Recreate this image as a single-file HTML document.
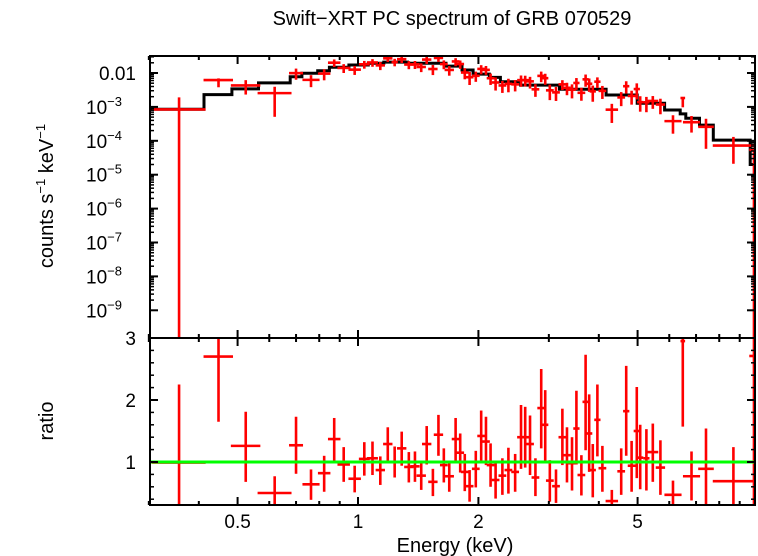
<!DOCTYPE html>
<html><head><meta charset="utf-8">
<style>
html,body{margin:0;padding:0;background:#fff;}
svg{display:block;font-family:"Liberation Sans",sans-serif;}
</style></head>
<body>
<svg id="chart" width="758" height="556" viewBox="0 0 758 556" xmlns="http://www.w3.org/2000/svg">
  <defs>
    <clipPath id="clipTop"><rect x="150" y="56" width="605" height="282"/></clipPath>
    <clipPath id="clipBot"><rect x="150" y="338" width="605" height="167"/></clipPath>
  </defs>
  <text x="452" y="25" font-size="20" text-anchor="middle">Swift−XRT PC spectrum of GRB 070529</text>
  <text x="455" y="552" font-size="20" text-anchor="middle">Energy (keV)</text>
  <text transform="translate(53,196) rotate(-90)" font-size="20" text-anchor="middle">counts s<tspan dy="-8" font-size="13">−1</tspan><tspan dy="8"> keV</tspan><tspan dy="-8" font-size="13">−1</tspan></text>
  <text transform="translate(53,421) rotate(-90)" font-size="20" text-anchor="middle">ratio</text>
  <g id="marksTop" clip-path="url(#clipTop)"></g>
  <g id="marksBot" clip-path="url(#clipBot)"></g>
  <g id="axes"></g>
</svg>
<script>
// ---- data ----
const energy = [0.357,0.448,0.524,0.619,0.700,0.763,0.823,0.872,0.921,0.981,1.037,1.087,1.137,1.187,1.235,1.286,1.340,1.388,1.439,1.485,1.539,1.589,1.639,1.691,1.754,1.801,1.849,1.901,1.970,2.032,2.089,2.145,2.208,2.296,2.377,2.471,2.556,2.618,2.692,2.777,2.871,2.938,3.017,3.126,3.243,3.330,3.428,3.516,3.618,3.707,3.784,3.863,3.967,4.083,4.311,4.550,4.683,4.831,4.977,5.076,5.26,5.458,5.702,6.13,6.486,6.82,7.413,8.68,9.77];
const energyLo = [0.305,0.411,0.481,0.561];
const energyHi = [0.416,0.487,0.570,0.682];
const binHalfDex = [0,0,0,0,0.0175,0.0214,0.0156,0.0156,0.0156,0.0156,0.0136,0.0136,0.0117,0.0117,0.0078,0.0117,0.0117,0.0117,0.0117,0.0117,0.0117,0.0117,0.0097,0.0117,0.0097,0.0097,0.0097,0.0097,0.0097,0.0097,0.0097,0.0097,0.0097,0.0097,0.0097,0.0097,0.0097,0.0097,0.0097,0.0097,0.0097,0.0078,0.0097,0.0097,0.0097,0.0097,0.0097,0.0078,0.0097,0.0078,0.0078,0.0078,0.0078,0.0097,0.0156,0.0097,0.0078,0.0097,0.0078,0.0078,0.0078,0.0136,0.0117,0.0214,0.0058,0.0214,0.0195,0.0516,0.0117];
const ratio = [0.99,2.70,1.26,0.50,1.27,0.64,0.82,1.37,0.96,0.73,1.05,1.06,0.87,1.29,1.0,1.22,0.92,0.93,0.78,1.29,0.68,1.44,0.95,0.77,1.37,1.15,0.84,0.61,0.89,1.42,1.33,0.95,0.71,0.78,0.87,0.84,1.40,1.40,1.29,0.75,1.87,1.60,0.70,0.61,1.40,1.11,0.98,1.54,0.79,1.97,1.46,0.87,1.68,0.90,0.37,0.85,1.82,0.94,1.50,1.07,1.06,1.16,0.91,0.47,2.95,0.77,0.89,0.69,2.71];
const ratioHi = [2.25,3.02,1.81,0.77,1.73,0.88,1.10,1.71,1.24,0.94,1.32,1.33,1.09,1.56,1.25,1.49,1.16,1.17,1.0,1.58,0.89,1.76,1.22,1.0,1.71,1.46,1.13,0.87,1.18,1.83,1.73,1.30,1.0,1.06,1.23,1.13,1.92,1.89,1.75,1.06,2.50,2.16,1.03,0.88,1.86,1.56,1.40,2.15,1.11,2.73,2.09,1.29,2.25,1.26,0.55,1.22,2.55,1.34,2.21,1.60,1.53,1.62,1.35,0.70,3.02,1.17,1.54,1.24,3.2];
const ratioLo = [0,1.65,0.68,0.1,0.81,0.39,0.52,1.02,0.68,0.51,0.78,0.79,0.63,1.0,0.75,0.94,0.67,0.68,0.55,0.96,0.45,1.10,0.67,0.52,0.99,0.83,0.53,0.36,0.59,0.98,0.95,0.60,0.41,0.47,0.49,0.52,0.89,0.91,0.79,0.45,1.22,1.02,0.36,0.34,0.95,0.67,0.54,0.96,0.46,1.19,0.84,0.43,1.09,0.52,0.15,0.47,1.10,0.52,0.74,0.56,0.54,0.68,0.47,0.2,1.57,0.38,0.2,0.2,0];
const modelEdges = [0.302,0.412,0.484,0.564,0.677,0.724,0.793,0.848,0.949,1.061,1.16,1.33,1.66,1.82,1.94,2.13,2.27,2.55,3.19,4.17,4.99,5.84,6.39,6.6,7.14,7.73,9.56,10.2];
const modelValues = [8.5e-4,2.3e-3,3.4e-3,5.1e-3,7.8e-3,9.8e-3,1.17e-2,1.47e-2,1.72e-2,1.93e-2,2.1e-2,1.93e-2,1.6e-2,1.23e-2,9.3e-3,7.4e-3,5.5e-3,4.4e-3,3.3e-3,2.24e-3,1.29e-3,8.1e-4,6.2e-4,4.6e-4,2.9e-4,1.05e-4,2.0e-5];
const xTicksMajor = [0.5,1,2,5];
const xTickLabels = ["0.5","1","2","5"];
const xTicksMinor = [0.3,0.4,0.6,0.7,0.8,0.9,3,4,6,7,8,9];
const yTopDecades = [-2,-3,-4,-5,-6,-7,-8,-9];
const yBotTicks = [1,2,3];

// ---- axes functions ----
const L=150,R=755,T1=56,B1=338,B2=505;
const X = e => 358 + Math.log10(e)*400;
const Ytop = v => v<=0 ? 400 : 73 + (-2 - Math.log10(v))*33.9;
const Ybot = r => 462 - (r-1)*62;
const NS='http://www.w3.org/2000/svg';
function mk(tag, attrs, parent){const el=document.createElementNS(NS,tag);for(const k in attrs)el.setAttribute(k,attrs[k]);parent.appendChild(el);return el;}
function modelAt(e){for(let i=0;i<modelValues.length;i++){if(e<modelEdges[i+1])return modelValues[i];}return modelValues[modelValues.length-1];}

const gTop=document.getElementById('marksTop'), gBot=document.getElementById('marksBot'), gAx=document.getElementById('axes');

let d='';
for(let i=0;i<modelValues.length;i++){
  const x0=X(modelEdges[i]), x1=X(modelEdges[i+1]), y=Ytop(modelValues[i]);
  d += (i===0?'M':'L')+x0.toFixed(1)+','+y.toFixed(1)+'L'+x1.toFixed(1)+','+y.toFixed(1);
}
const mp=mk('path',{d:d,fill:'none',stroke:'#000','stroke-width':3},gTop);



for(let i=0;i<energy.length;i++){
  const e=energy[i];
  const lo = i<energyLo.length ? energyLo[i] : e*Math.pow(10,-binHalfDex[i]);
  const hi = i<energyHi.length ? energyHi[i] : e*Math.pow(10,binHalfDex[i]);
  const m=modelAt(e);
  const gt=mk('g',{stroke:'#f00','stroke-width':2.6},gTop);
  
  
  mk('line',{x1:X(lo),x2:X(hi),y1:Ytop(ratio[i]*m),y2:Ytop(ratio[i]*m)},gt);
  mk('line',{x1:X(e),x2:X(e),y1:Ytop(ratioHi[i]*m),y2:Ytop(ratioLo[i]*m)},gt);
  const gb=mk('g',{stroke:'#f00','stroke-width':2.6},gBot);
  
  
  mk('line',{x1:X(lo),x2:X(hi),y1:Ybot(ratio[i]),y2:Ybot(ratio[i])},gb);
  mk('line',{x1:X(e),x2:X(e),y1:Ybot(ratioHi[i]),y2:Ybot(Math.max(ratioLo[i],0))},gb);
}
const gl=mk('line',{x1:L,x2:R,y1:Ybot(1),y2:Ybot(1),stroke:'#0f0','stroke-width':3},gBot);



const f1=mk('rect',{x:L,y:T1,width:R-L,height:B1-T1,fill:'none',stroke:'#000','stroke-width':2},gAx);


const f2=mk('rect',{x:L,y:B1,width:R-L,height:B2-B1,fill:'none',stroke:'#000','stroke-width':2},gAx);



function xt(e,len){
  const x=X(e);
  [[T1,1],[B1,-1],[B1,1],[B2,-1]].forEach(([y,s])=>{mk('line',{x1:x,x2:x,y1:y,y2:y+s*len,stroke:'#000','stroke-width':2},gAx);});
}
xTicksMajor.forEach((e,i)=>{
  xt(e,8);
  const t=mk('text',{x:X(e),y:528,'font-size':19,'text-anchor':'middle'},gAx);
  t.textContent=xTickLabels[i];
  
  
});
xTicksMinor.forEach(e=>xt(e,4));
yTopDecades.forEach(p=>{
  const y=Ytop(Math.pow(10,p));
  mk('line',{x1:L,x2:L+8,y1:y,y2:y,stroke:'#000','stroke-width':2},gAx);
  mk('line',{x1:R,x2:R-8,y1:y,y2:y,stroke:'#000','stroke-width':2},gAx);
  for(let k=2;k<=9;k++){
    const ym=Ytop(k*Math.pow(10,p));
    if(ym<T1) continue;
    mk('line',{x1:L,x2:L+4,y1:ym,y2:ym,stroke:'#000','stroke-width':1.5},gAx);
    mk('line',{x1:R,x2:R-4,y1:ym,y2:ym,stroke:'#000','stroke-width':1.5},gAx);
  }
  const t=mk('text',{x:136,y:y+7,'font-size':19,'text-anchor':'end'},gAx);
  
  
  if(p===-2){t.textContent='0.01';}
  else{t.setAttribute('x',122);t.textContent='10';const s=mk('tspan',{dy:-8,'font-size':13},t);s.textContent='−'+(-p);}
});
yBotTicks.forEach(r=>{
  const y=Ybot(r);
  mk('line',{x1:L,x2:L+8,y1:y,y2:y,stroke:'#000','stroke-width':2},gAx);
  mk('line',{x1:R,x2:R-8,y1:y,y2:y,stroke:'#000','stroke-width':2},gAx);
  const t=mk('text',{x:136,y:y+7,'font-size':19,'text-anchor':'end'},gAx);
  t.textContent=String(r);
  
  
});
for(let r=0.4;r<3;r+=0.2){
  if(Math.abs(r-Math.round(r))<0.01) continue;
  const y=Ybot(r);
  mk('line',{x1:L,x2:L+4,y1:y,y2:y,stroke:'#000','stroke-width':1.5},gAx);
  mk('line',{x1:R,x2:R-4,y1:y,y2:y,stroke:'#000','stroke-width':1.5},gAx);
}
</script>
</body></html>
